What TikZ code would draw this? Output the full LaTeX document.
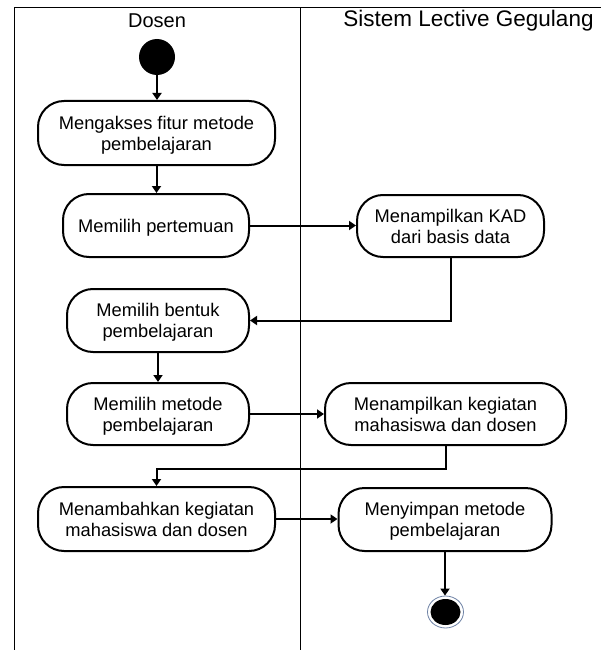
\documentclass[tikz,border=0pt]{standalone}
\usepackage{fontspec}
\setmainfont{Liberation Sans}
\usetikzlibrary{arrows.meta,shapes.geometric}
\definecolor{ringcol}{RGB}{110,130,165}
\begin{document}
\begin{tikzpicture}[x=1pt,y=-1pt,
  act/.style={draw,line width=2pt,rounded corners=26pt,align=center,
    font=\fontsize{18.3}{20.8}\selectfont,inner sep=0pt,text depth=0pt},
  flow/.style={line width=2pt,-{Triangle[length=7pt,width=9pt]}},
  lane/.style={line width=1pt},
  hdr/.style={font=\fontsize{20}{24}\selectfont,inner sep=0pt}]
\useasboundingbox (0,0) rectangle (601,650);
\fill[white] (0,0) rectangle (601,650);
% swimlane frame
\draw[lane] (14,650) -- (14,8) -- (601,8);
\draw[lane] (300,8) -- (300,650);
\node[hdr] (h1) at (157,21) {Dosen};
\node[hdr,font=\fontsize{22.5}{26}\selectfont] (h2) at (468.5,21) {Sistem Lective Gegulang};
% start
\node[circle,fill=black,minimum size=36pt,inner sep=0pt] (start) at (157,57) {};
% activities
\node[act,minimum width=237pt,minimum height=64pt] (b1) at (156.5,133) {Mengakses fitur metode\\pembelajaran};
\node[act,minimum width=186pt,minimum height=63pt] (b2) at (156,225.5) {Memilih pertemuan};
\node[act,minimum width=187pt,minimum height=62pt] (b3) at (450.5,226) {Menampilkan KAD\\dari basis data};
\node[act,minimum width=182pt,minimum height=63pt] (b4) at (158,320.5) {Memilih bentuk\\pembelajaran};
\node[act,minimum width=182pt,minimum height=62pt] (b5) at (158,414) {Memilih metode\\pembelajaran};
\node[act,minimum width=241pt,minimum height=62pt] (b6) at (445.5,414) {Menampilkan kegiatan\\mahasiswa dan dosen};
\node[act,minimum width=237pt,minimum height=64pt] (b7) at (156.5,519) {Menambahkan kegiatan\\mahasiswa dan dosen};
\node[act,minimum width=213pt,minimum height=63pt] (b8) at (445,519.5) {Menyimpan metode\\pembelajaran};
% end
\node[ellipse,draw=ringcol,line width=0.8pt,minimum width=36pt,minimum height=32pt,inner sep=0pt] (end) at (445.5,612) {};
\node[ellipse,fill=black,minimum width=30pt,minimum height=26pt,inner sep=0pt] (endin) at (end.center) {};
% flows
\draw[flow] (start.south) -- (start.south |- b1.north);
\draw[flow] (b1.south) -- (b1.south |- b2.north);
\draw[flow] (b2.east) -- (b2.east -| b3.west);
\draw[flow] (b3.south) |- (b4.east);
\draw[flow] (b4.south) -- (b4.south |- b5.north);
\draw[flow] (b5.east) -- (b5.east -| b6.west);
\draw[flow] (b6.south) -- ++(0,23) -| (b7.north);
\draw[flow] (b7.east) -- (b7.east -| b8.west);
\draw[flow] (b8.south) -- (b8.south |- end.north);
\end{tikzpicture}
\end{document}
